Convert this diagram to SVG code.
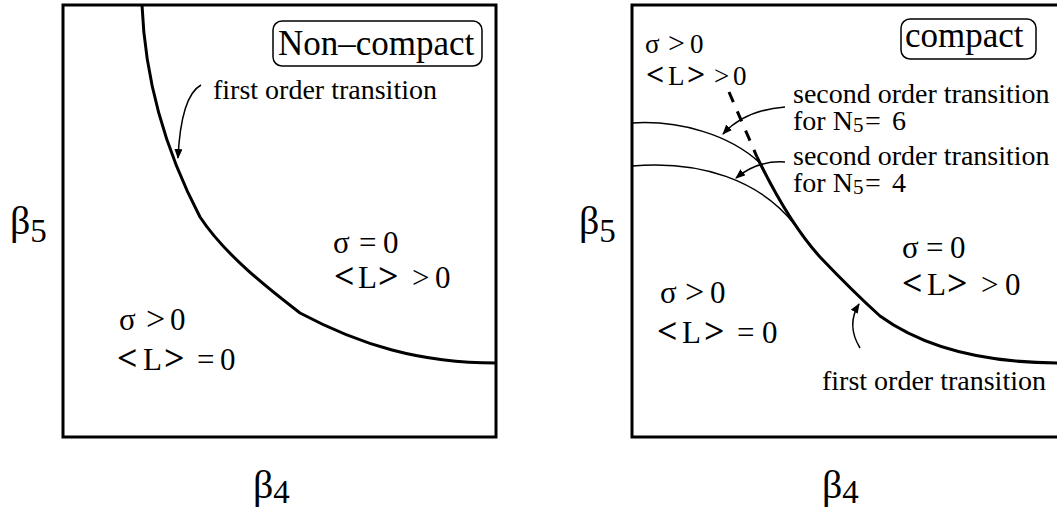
<svg xmlns="http://www.w3.org/2000/svg" width="1057" height="512" viewBox="0 0 1057 512">
<defs>
<style>
text{font-family:"Liberation Serif","Times New Roman",serif;fill:#000}
.t31{font-size:31px}
.t27{font-size:27px}
.t28{font-size:28px}
.lab{font-size:35px}
.ax{font-size:40px}
.sub{font-size:33px}
.s21{font-size:21px}
.b{font-weight:bold;font-size:36px}
.t27 .b{font-size:32px}
.gt{font-size:34px}
.t27 .gt{font-size:30px}
.frame{fill:none;stroke:#000;stroke-width:3}
.thick{fill:none;stroke:#000;stroke-width:3}
.thin{fill:none;stroke:#000;stroke-width:1.5}
.arr{fill:none;stroke:#000;stroke-width:1.5;marker-end:url(#ah)}
.tag{fill:#fff;stroke:#000;stroke-width:1.5}
</style>
<marker id="ah" viewBox="0 0 10 8" refX="9" refY="4" markerWidth="10" markerHeight="8" markerUnits="userSpaceOnUse" orient="auto">
<path d="M0,0 L10,4 L0,8 Z" fill="#000"/>
</marker>
</defs>

<g id="left-panel">
<rect class="frame" x="63" y="5" width="433" height="432"/>
</g>
<g id="right-panel">
<rect class="frame" x="632" y="5" width="433" height="432"/>
</g>

<g id="connectors">
<path class="thick" d="M142,5 C145,80 165,150 200,217 C225,255 270,290 300,313 C360,345 420,363 496,363"/>
<path class="arr" d="M201,85 Q181,96 178,158"/>
<path class="thick" d="M729,92 L757,157" stroke-dasharray="11,10"/>
<path class="thick" d="M757,157 C772,188 792,226 820,257 C840,278 860,298 880,316 C920,345 980,363 1060,363"/>
<path class="thin" d="M632,123 C680,120 730,135 760,163"/>
<path class="thin" d="M632,166 C700,160 760,180 795,225"/>
<path class="arr" d="M785,107 Q745,110 723,134"/>
<path class="arr" d="M785,162 Q758,160 736,178"/>
<path class="arr" d="M860,348 Q846,325 859,304"/>
</g>

<g id="label-noncompact">
<rect class="tag" x="273" y="21" width="209" height="45" rx="9"/>
<text class="lab" x="278" y="55">Non–compact</text>
</g>
<g id="label-compact">
<rect class="tag" x="901" y="19" width="135" height="40" rx="9"/>
<text class="lab" x="905" y="47">compact</text>
</g>

<g id="left-texts">
<text class="t28" x="213" y="99">first order transition</text>
<text class="t31" y="253"><tspan x="333">σ</tspan><tspan x="359">=</tspan><tspan x="383">0</tspan></text>
<text class="t31" y="288"><tspan x="334" class="b">&lt;</tspan><tspan x="358">L</tspan><tspan x="378" class="b">&gt;</tspan><tspan x="412">&gt;</tspan><tspan x="435">0</tspan></text>
<text class="t31" y="330"><tspan x="119">σ</tspan><tspan x="146" class="gt">&gt;</tspan><tspan x="170">0</tspan></text>
<text class="t31" y="370"><tspan x="117" class="b">&lt;</tspan><tspan x="143">L</tspan><tspan x="164" class="b">&gt;</tspan><tspan x="197">=</tspan><tspan x="220">0</tspan></text>
<text class="ax" x="10" y="234">β<tspan class="sub" dy="8">5</tspan></text>
<text class="ax" x="253" y="498">β<tspan class="sub" dy="5">4</tspan></text>
</g>

<g id="right-texts">
<text class="t27" y="53"><tspan x="645">σ</tspan><tspan x="668" class="gt">&gt;</tspan><tspan x="690">0</tspan></text>
<text class="t27" y="85"><tspan x="646" class="b">&lt;</tspan><tspan x="668">L</tspan><tspan x="687" class="b">&gt;</tspan><tspan x="714">&gt;</tspan><tspan x="733">0</tspan></text>
<text class="t28"><tspan x="793" y="103">second order transition</tspan><tspan x="793" y="130">for N</tspan><tspan x="853" y="132" class="s21">5</tspan><tspan x="865" y="130">=</tspan><tspan x="892" y="130">6</tspan></text>
<text class="t28"><tspan x="793" y="165">second order transition</tspan><tspan x="793" y="192">for N</tspan><tspan x="853" y="194" class="s21">5</tspan><tspan x="865" y="192">=</tspan><tspan x="892" y="192">4</tspan></text>
<text class="t31" y="258"><tspan x="902">σ</tspan><tspan x="926">=</tspan><tspan x="950">0</tspan></text>
<text class="t31" y="295"><tspan x="902" class="b">&lt;</tspan><tspan x="927">L</tspan><tspan x="947" class="b">&gt;</tspan><tspan x="981">&gt;</tspan><tspan x="1005">0</tspan></text>
<text class="t31" y="303"><tspan x="660">σ</tspan><tspan x="685" class="gt">&gt;</tspan><tspan x="710">0</tspan></text>
<text class="t31" y="343"><tspan x="657" class="b">&lt;</tspan><tspan x="682">L</tspan><tspan x="704" class="b">&gt;</tspan><tspan x="737">=</tspan><tspan x="762">0</tspan></text>
<text class="t28" x="822" y="390">first order transition</text>
<text class="ax" x="579" y="234">β<tspan class="sub" dy="8">5</tspan></text>
<text class="ax" x="822" y="498">β<tspan class="sub" dy="5">4</tspan></text>
</g>
</svg>
